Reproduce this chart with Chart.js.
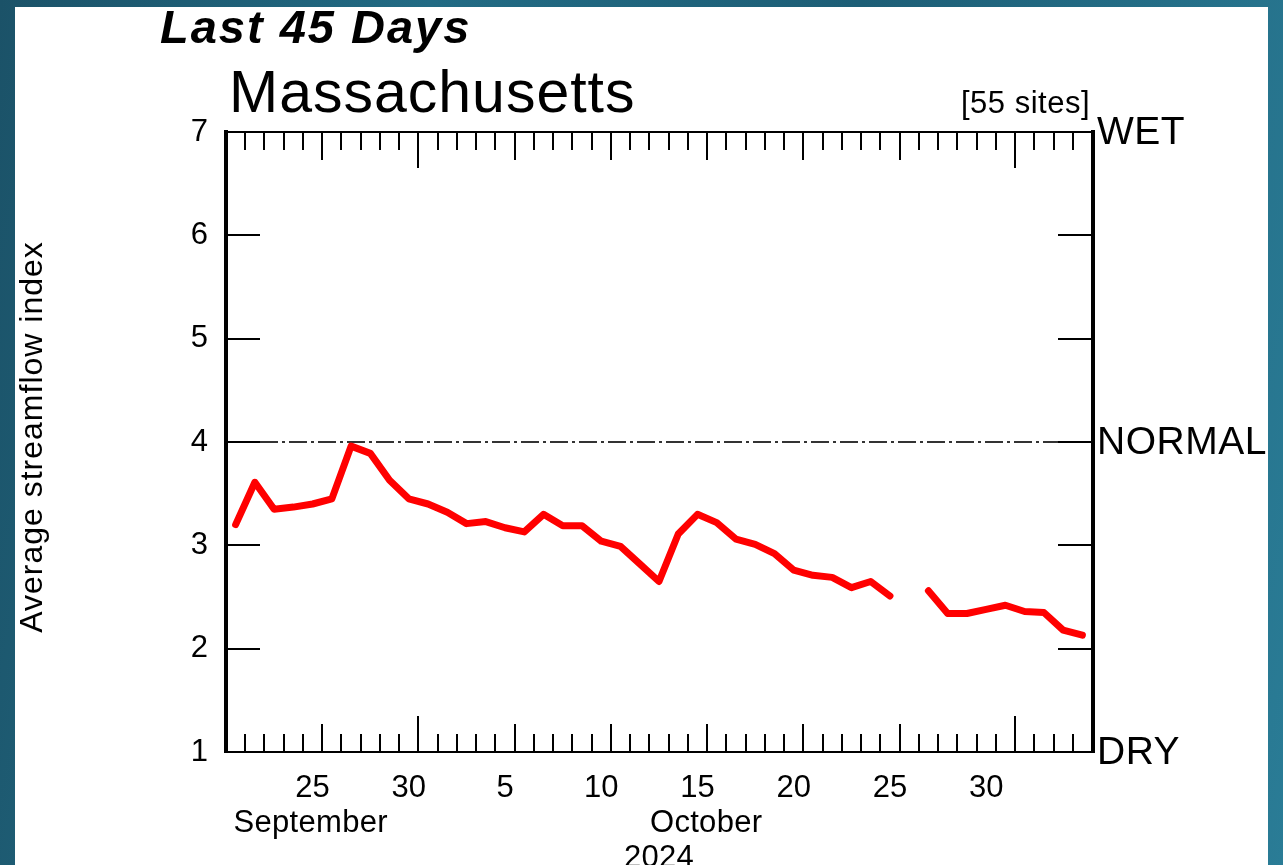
<!DOCTYPE html>
<html>
<head>
<meta charset="utf-8">
<script src="https://cdn.jsdelivr.net/npm/chart.js@4/dist/chart.umd.min.js"></script>
<style>
  html, body { margin: 0; padding: 0; width: 1283px; height: 865px; overflow: hidden; }
  body { background: linear-gradient(100deg, #1b5268 0%, #226b84 30%, #1d5e76 60%, #2a7c96 100%); }
  #c { position: absolute; left: 0; top: 0; }
</style>
</head>
<body>
<canvas id="c" width="1283" height="865"></canvas>
<script>
// ---- data (daily average streamflow index, Sep 21 – Nov 4, 2024) ----
const dayLabels = ['Sep 21','Sep 22','Sep 23','Sep 24','Sep 25','Sep 26','Sep 27','Sep 28','Sep 29','Sep 30',
  'Oct 1','Oct 2','Oct 3','Oct 4','Oct 5','Oct 6','Oct 7','Oct 8','Oct 9','Oct 10',
  'Oct 11','Oct 12','Oct 13','Oct 14','Oct 15','Oct 16','Oct 17','Oct 18','Oct 19','Oct 20',
  'Oct 21','Oct 22','Oct 23','Oct 24','Oct 25','Oct 26','Oct 27','Oct 28','Oct 29','Oct 30',
  'Oct 31','Nov 1','Nov 2','Nov 3','Nov 4'];
const streamflowIndex = [3.20, 3.61, 3.35, 3.37, 3.40, 3.45, 3.96, 3.89, 3.63, 3.45,
  3.40, 3.32, 3.21, 3.23, 3.17, 3.13, 3.30, 3.19, 3.19, 3.04,
  2.99, 2.82, 2.65, 3.11, 3.30, 3.22, 3.06, 3.01, 2.92, 2.76,
  2.71, 2.69, 2.59, 2.65, 2.51, null, 2.56, 2.34, 2.34, 2.38,
  2.42, 2.36, 2.35, 2.18, 2.13];
const xTickDayIndex = [4, 9, 14, 19, 24, 29, 34, 39];
const xTickLabels = ['25', '30', '5', '10', '15', '20', '25', '30'];
const monthEndTicks = [10, 41];
const fiveDayTicks = [5, 15, 20, 25, 30, 35];
const yTickValues = [2, 3, 4, 5, 6];
const normalValue = 4;
const FONT = "'Liberation Sans', Arial, Helvetica, sans-serif";

const points = streamflowIndex.map((v, i) => ({ x: i + 0.5, y: v }));

const framePlugin = {
  id: 'frame',
  beforeDraw(chart) {
    const ctx = chart.ctx;
    ctx.save();
    ctx.fillStyle = '#ffffff';
    ctx.fillRect(15, 7, 1253, 858);
    ctx.restore();
  },
  beforeDatasetsDraw(chart) {
    const ctx = chart.ctx;
    const xs = chart.scales.x, ys = chart.scales.y;
    const L = xs.left, R = xs.right, T = ys.top, B = ys.bottom;
    ctx.save();
    ctx.strokeStyle = '#000';
    ctx.lineWidth = 2;
    for (let k = 1; k < dayLabels.length; k++) {
      const x = Math.round(xs.getPixelForValue(k));
      const len = monthEndTicks.includes(k) ? 36 : (fiveDayTicks.includes(k) ? 28 : 18);
      ctx.beginPath();
      ctx.moveTo(x, B); ctx.lineTo(x, B - len);
      ctx.moveTo(x, T); ctx.lineTo(x, T + len);
      ctx.stroke();
    }
    yTickValues.forEach(v => {
      const y = Math.round(ys.getPixelForValue(v));
      ctx.beginPath();
      ctx.moveTo(L, y); ctx.lineTo(L + 34, y);
      ctx.moveTo(R, y); ctx.lineTo(R - 34, y);
      ctx.stroke();
    });
    const yn = Math.round(ys.getPixelForValue(normalValue));
    ctx.strokeStyle = '#333';
    ctx.setLineDash([18, 4, 3, 4]);
    ctx.beginPath();
    ctx.moveTo(L + 34, yn); ctx.lineTo(R - 34, yn);
    ctx.stroke();
    ctx.setLineDash([]);
    ctx.strokeStyle = '#000';
    ctx.lineWidth = 2;
    ctx.beginPath();
    ctx.moveTo(L, T); ctx.lineTo(R, T);
    ctx.moveTo(L, B); ctx.lineTo(R, B);
    ctx.stroke();
    ctx.lineWidth = 4;
    ctx.beginPath();
    ctx.moveTo(L, T - 2); ctx.lineTo(L, B + 1);
    ctx.moveTo(R + 1, T - 2); ctx.lineTo(R + 1, B + 1);
    ctx.stroke();
    ctx.restore();
  },
  afterDraw(chart) {
    const ctx = chart.ctx;
    const xs = chart.scales.x, ys = chart.scales.y;
    ctx.save();
    ctx.fillStyle = '#000';
    ctx.font = "italic bold 47px " + FONT;
    ctx.letterSpacing = '2px';
    ctx.textAlign = 'left';
    ctx.textBaseline = 'alphabetic';
    ctx.fillText('Last 45 Days', 160, 43);
    ctx.font = "59px " + FONT;
    ctx.letterSpacing = '1px';
    ctx.fillText('Massachusetts', 229, 112);
    ctx.font = "31px " + FONT;
    ctx.letterSpacing = '0.5px';
    ctx.textAlign = 'right';
    ctx.fillText('[55 sites]', 1090, 113);
    ctx.font = "39px " + FONT;
    ctx.letterSpacing = '0.5px';
    ctx.textAlign = 'left';
    ctx.textBaseline = 'middle';
    const rx = xs.right + 5;
    ctx.fillText('WET', rx, ys.getPixelForValue(7) + 1);
    ctx.fillText('NORMAL', rx, ys.getPixelForValue(4) + 1);
    ctx.fillText('DRY', rx, ys.getPixelForValue(1) + 1);
    ctx.font = "31px " + FONT;
    ctx.letterSpacing = '0.3px';
    ctx.textAlign = 'center';
    ctx.textBaseline = 'alphabetic';
    ctx.fillText('September', xs.getPixelForValue(4.4), 832);
    ctx.fillText('October', xs.getPixelForValue(24.95), 832);
    ctx.fillText('2024', xs.getPixelForValue(22.5), 867);
    ctx.translate(42, 437);
    ctx.rotate(-Math.PI / 2);
    ctx.font = "32px " + FONT;
    ctx.letterSpacing = '1px';
    ctx.textAlign = 'center';
    ctx.fillText('Average streamflow index', 0, 0);
    ctx.restore();
  }
};

new Chart(document.getElementById('c'), {
  type: 'line',
  data: {
    datasets: [{
      data: points,
      borderColor: '#ff0000',
      borderWidth: 7,
      borderJoinStyle: 'round',
      borderCapStyle: 'round',
      pointRadius: 0,
      tension: 0,
      spanGaps: false,
      fill: false
    }]
  },
  options: {
    responsive: false,
    animation: false,
    devicePixelRatio: 1,
    layout: { padding: { top: 132, right: 191, left: 0, bottom: 0 } },
    plugins: { legend: { display: false }, tooltip: { enabled: false }, title: { display: false } },
    scales: {
      x: {
        type: 'linear', min: 0, max: dayLabels.length,
        grid: { display: false, drawTicks: false },
        border: { display: false },
        afterBuildTicks: s => { s.ticks = xTickDayIndex.map(d => ({ value: d + 0.5 })); },
        afterFit: s => { s.height = 113; },
        ticks: {
          autoSkip: false, maxRotation: 0, minRotation: 0, padding: 18,
          color: '#000', font: { family: FONT, size: 31 },
          callback: (v, i) => xTickLabels[i]
        }
      },
      y: {
        min: 1, max: 7,
        grid: { display: false, drawTicks: false },
        border: { display: false },
        afterFit: s => { s.width = 226; },
        ticks: {
          stepSize: 1, padding: 18,
          color: '#000', font: { family: FONT, size: 31 }
        }
      }
    }
  },
  plugins: [framePlugin]
});
</script>
</body>
</html>
